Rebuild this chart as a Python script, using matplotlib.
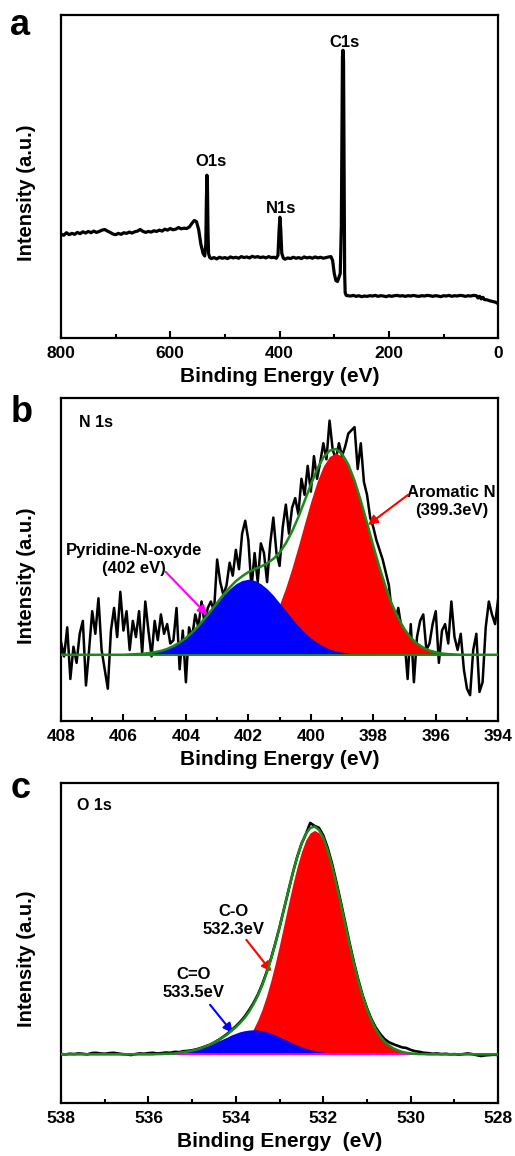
import numpy as np
import matplotlib.pyplot as plt
from matplotlib.ticker import MultipleLocator

plt.rcParams['font.family'] = ['Liberation Sans', 'DejaVu Sans']
plt.rcParams['font.weight'] = 'bold'
plt.rcParams['axes.labelweight'] = 'bold'

GREEN = '#1b8a1b'

# ---- panel a: survey spectrum (intensity as fraction of axis height) ----
survey_be = (list(range(800, 560, -5))
             + [560, 556, 552, 548, 544, 540, 537, 535, 534, 533, 532, 531, 530, 528, 525]
             + list(range(520, 405, -5))
             + [406, 403, 401, 399.5, 398, 396, 393]
             + list(range(390, 305, -5))
             + [306, 303, 300, 297, 294, 291, 289, 287, 285, 284, 283, 282, 281, 280, 278, 275]
             + list(range(270, 44, -5))
             + [40, 37, 34, 31, 28, 25, 20, 15, 10, 5, 0])
survey_int = [
    0.322, 0.318, 0.326, 0.320, 0.324, 0.321, 0.327, 0.323, 0.329, 0.325, 0.330, 0.326,
    0.331, 0.327, 0.330, 0.334, 0.336, 0.331, 0.327, 0.322, 0.320, 0.324, 0.321, 0.326,
    0.324, 0.328, 0.325, 0.329, 0.331, 0.336, 0.330, 0.327, 0.330, 0.328, 0.332, 0.330,
    0.334, 0.331, 0.337, 0.334, 0.339, 0.335, 0.337, 0.342, 0.338, 0.340, 0.339, 0.344,
    0.356, 0.364, 0.360, 0.335, 0.290, 0.262, 0.254, 0.290, 0.420, 0.504, 0.470, 0.330,
    0.262, 0.250, 0.246,
    0.249, 0.245, 0.250, 0.247, 0.249, 0.246, 0.251, 0.248, 0.250, 0.247, 0.252, 0.249,
    0.251, 0.248, 0.253, 0.250, 0.252, 0.249, 0.251, 0.248, 0.252, 0.249, 0.250,
    0.247, 0.256, 0.330, 0.374, 0.340, 0.262, 0.247,
    0.244, 0.248, 0.246, 0.250, 0.247, 0.249, 0.246, 0.251, 0.248, 0.250, 0.247, 0.251,
    0.248, 0.250, 0.247, 0.249, 0.251,
    0.252, 0.240, 0.200, 0.178, 0.175, 0.190, 0.200, 0.350, 0.870, 0.891, 0.860, 0.500,
    0.200, 0.140, 0.132, 0.131,
    0.130, 0.132, 0.129, 0.131, 0.128, 0.130, 0.129, 0.131, 0.130, 0.132, 0.129, 0.131,
    0.130, 0.128, 0.131, 0.129, 0.131, 0.132, 0.130, 0.131, 0.129, 0.131, 0.130, 0.132,
    0.130, 0.129, 0.131, 0.130, 0.132, 0.131, 0.129, 0.131, 0.130, 0.128, 0.131, 0.130,
    0.132, 0.129, 0.131, 0.130, 0.132, 0.131, 0.129, 0.131, 0.130, 0.132,
    0.131, 0.124, 0.129, 0.121, 0.126, 0.119, 0.118, 0.115, 0.113, 0.111, 0.106,
]
survey_labels = [("O1s", 526.2, 0.545), ("N1s", 397.6, 0.40), ("C1s", 280.5, 0.914)]

# ---- panel b: N 1s ----
n1s_be = np.round(np.linspace(408.0, 394.0, 141), 1)
n1s_raw = [
    0.245, 0.20, 0.29, 0.13, 0.23, 0.18, 0.27, 0.31, 0.11, 0.22, 0.34, 0.27,
    0.38, 0.22, 0.16, 0.10, 0.28, 0.35, 0.26, 0.40, 0.28, 0.34, 0.22, 0.31,
    0.26, 0.34, 0.21, 0.37, 0.28, 0.20, 0.31, 0.25, 0.33, 0.27, 0.30, 0.24,
    0.25, 0.35, 0.16, 0.28, 0.12, 0.29, 0.26, 0.33, 0.29, 0.37, 0.30, 0.35,
    0.37, 0.34, 0.50, 0.43, 0.39, 0.42, 0.49, 0.45, 0.53, 0.47, 0.58, 0.62,
    0.56, 0.41, 0.52, 0.43, 0.55, 0.52, 0.43, 0.55, 0.63, 0.52, 0.48,
    0.60, 0.67, 0.58, 0.66, 0.69, 0.64, 0.75, 0.70, 0.79, 0.71, 0.82, 0.75,
    0.80, 0.86, 0.81, 0.93, 0.84, 0.81, 0.86, 0.82, 0.85, 0.89, 0.90, 0.91,
    0.78, 0.86, 0.74, 0.70, 0.63, 0.60, 0.56, 0.53, 0.50, 0.46,
    0.42, 0.33, 0.31, 0.35, 0.29, 0.25, 0.13, 0.30, 0.12, 0.26, 0.31, 0.33,
    0.22, 0.24, 0.30, 0.34, 0.18, 0.28, 0.30, 0.24, 0.37, 0.26, 0.22, 0.27,
    0.16, 0.10, 0.08, 0.22, 0.27, 0.09, 0.12, 0.29, 0.37, 0.33, 0.30, 0.38,
]
n1s_fit_be = np.round(np.linspace(408.0, 394.0, 71), 1)
n1s_oxide = [
    0, 0, 0, 0, 0, 0, 0, 0, 0, 0, 0,
    0.001, 0.002, 0.003, 0.005, 0.008, 0.012, 0.018, 0.027, 0.038, 0.052,
    0.069, 0.089, 0.112, 0.136, 0.160, 0.184, 0.204, 0.220, 0.230, 0.234,
    0.230, 0.220, 0.204, 0.184, 0.160, 0.136, 0.112, 0.089, 0.069, 0.052,
    0.038, 0.027, 0.018, 0.012, 0.008, 0.005, 0.003, 0.002, 0.001,
    0, 0, 0, 0, 0, 0, 0, 0, 0, 0, 0, 0, 0, 0, 0, 0, 0, 0, 0, 0, 0,
]
n1s_arom = [
    0, 0, 0, 0, 0, 0, 0, 0, 0, 0, 0, 0, 0, 0, 0, 0, 0, 0, 0, 0, 0, 0, 0, 0, 0,
    0.001, 0.002, 0.004, 0.008, 0.013, 0.022, 0.035, 0.053, 0.079, 0.113,
    0.156, 0.209, 0.270, 0.337, 0.407, 0.475, 0.536, 0.584, 0.614, 0.625,
    0.614, 0.584, 0.536, 0.475, 0.407, 0.337, 0.270, 0.209, 0.156, 0.113,
    0.079, 0.053, 0.035, 0.022, 0.013, 0.008, 0.004, 0.002, 0.001,
    0, 0, 0, 0, 0, 0, 0,
]
n1s_base = 0.205

# ---- panel c: O 1s ----
o1s_be = np.round(np.linspace(538.0, 528.0, 101), 1)
o1s_raw = [
    0.153, 0.152, 0.154, 0.153, 0.155, 0.154, 0.152, 0.156, 0.157, 0.155,
    0.154, 0.156, 0.157, 0.155, 0.153, 0.152, 0.150, 0.153, 0.155, 0.154,
    0.156, 0.157, 0.155, 0.156, 0.158, 0.157, 0.160, 0.159, 0.162, 0.163,
    0.165, 0.168, 0.172, 0.177, 0.182, 0.189, 0.197, 0.206, 0.216, 0.228,
    0.240, 0.254, 0.270, 0.290, 0.312, 0.338, 0.370, 0.408, 0.450, 0.498,
    0.550, 0.606, 0.662, 0.718, 0.768, 0.810, 0.840, 0.875, 0.866, 0.860,
    0.836, 0.797, 0.748, 0.690, 0.628, 0.565, 0.500, 0.440, 0.385, 0.336,
    0.296, 0.262, 0.236, 0.216, 0.200, 0.190, 0.184, 0.179, 0.174, 0.172,
    0.166, 0.162, 0.160, 0.157, 0.156, 0.154, 0.155, 0.153, 0.154, 0.152,
    0.153, 0.151, 0.153, 0.155, 0.153, 0.150, 0.147, 0.149, 0.150, 0.151,
    0.150,
]
o1s_cdo = [  # C=O component
    0, 0, 0, 0, 0, 0, 0, 0, 0, 0, 0, 0, 0, 0, 0, 0, 0, 0, 0, 0, 0, 0,
    0.001, 0.001, 0.002, 0.002, 0.003, 0.005, 0.007, 0.009, 0.012, 0.015,
    0.019, 0.024, 0.029, 0.035, 0.042, 0.048, 0.054, 0.061, 0.066, 0.071,
    0.074, 0.076, 0.077, 0.076, 0.074, 0.071, 0.066, 0.061, 0.054, 0.048,
    0.042, 0.035, 0.029, 0.024, 0.019, 0.015, 0.012, 0.009, 0.007, 0.005,
    0.003, 0.002, 0.002, 0.001, 0.001,
    0, 0, 0, 0, 0, 0, 0, 0, 0, 0, 0, 0, 0, 0, 0, 0, 0,
    0, 0, 0, 0, 0, 0, 0, 0, 0, 0, 0, 0, 0, 0, 0, 0, 0,
]
o1s_co = [  # C-O component
    0, 0, 0, 0, 0, 0, 0, 0, 0, 0, 0, 0, 0, 0, 0, 0, 0, 0, 0, 0, 0, 0,
    0, 0, 0, 0, 0, 0, 0, 0, 0, 0, 0,
    0.001, 0.001, 0.002, 0.003, 0.005, 0.008, 0.013, 0.019, 0.028, 0.040,
    0.057, 0.079, 0.107, 0.141, 0.182, 0.230, 0.284, 0.343, 0.406, 0.469,
    0.530, 0.586, 0.633, 0.670, 0.692, 0.700, 0.692, 0.670, 0.633, 0.586,
    0.530, 0.469, 0.406, 0.343, 0.284, 0.230, 0.182, 0.141, 0.107, 0.079,
    0.057, 0.040, 0.028, 0.019, 0.013, 0.008, 0.005, 0.003, 0.002, 0.001,
    0.001,
    0, 0, 0, 0, 0, 0, 0, 0, 0, 0, 0, 0, 0, 0, 0, 0, 0,
]
o1s_base = 0.152

assert len(survey_be) == len(survey_int)
assert len(n1s_raw) == len(n1s_be)
assert len(n1s_oxide) == len(n1s_arom) == len(n1s_fit_be)
assert len(o1s_raw) == len(o1s_cdo) == len(o1s_co) == len(o1s_be)


def style(ax, xlim, major, minor, xlabel):
    ax.set_xlim(*xlim)
    ax.set_ylim(0, 1)
    ax.set_yticks([])
    ax.xaxis.set_major_locator(MultipleLocator(major))
    ax.xaxis.set_minor_locator(MultipleLocator(minor))
    ax.tick_params(axis='x', which='both', direction='in', top=False, width=1.5,
                   labelsize=12.5, pad=6)
    ax.tick_params(axis='x', which='major', length=5)
    ax.tick_params(axis='x', which='minor', length=3)
    for lab in ax.get_xticklabels():
        lab.set_fontweight('bold')
    for sp in ax.spines.values():
        sp.set_linewidth(1.6)
    ax.set_xlabel(xlabel, fontsize=15, fontweight='bold', labelpad=4)
    ax.set_ylabel("Intensity (a.u.)", fontsize=14.5, fontweight='bold')
    ax.yaxis.set_label_coords(-0.057, 0.45)


def arrow(ax, tail, head, color):
    ax.annotate("", xy=head, xytext=tail,
                arrowprops=dict(arrowstyle='-|>', color=color, lw=1.5,
                                mutation_scale=14, shrinkA=0, shrinkB=0))


fig = plt.figure(figsize=(5.15, 11.56), dpi=100)
ax_a = fig.add_axes([0.1184, 0.7076, 0.849, 0.2794])
ax_b = fig.add_axes([0.1184, 0.3763, 0.849, 0.2794])
ax_c = fig.add_axes([0.1184, 0.0458, 0.849, 0.2769])

# a
ax_a.plot(survey_be, survey_int, color='black', lw=2.3)
for name, x, y in survey_labels:
    ax_a.text(x, y, name, ha='center', va='center', fontsize=12, fontweight='bold')
style(ax_a, (800, 0), 200, 100, "Binding Energy (eV)")

# b
oxide = np.array(n1s_oxide)
arom = np.array(n1s_arom)
ax_b.plot(n1s_be, n1s_raw, color='black', lw=1.8, zorder=1)
ax_b.fill_between(n1s_fit_be, n1s_base, n1s_base + arom, color='#ff0000', lw=0, zorder=2)
ax_b.fill_between(n1s_fit_be, n1s_base, n1s_base + oxide, color='#0000ff', lw=0, zorder=2)
ax_b.axhline(n1s_base, color=GREEN, lw=1.4, zorder=3)
ax_b.plot(n1s_fit_be, n1s_base + oxide + arom, color=GREEN, lw=1.8, zorder=4)
ax_b.text(407.43, 0.925, "N 1s", ha='left', va='center', fontsize=11.5, fontweight='bold')
ax_b.text(405.67, 0.50, "Pyridine-N-oxyde\n(402 eV)", ha='center', va='center',
          fontsize=12, fontweight='bold', linespacing=1.2)
arrow(ax_b, (404.65, 0.462), (403.31, 0.328), '#ff00ff')
ax_b.text(395.5, 0.68, "Aromatic N\n(399.3eV)", ha='center', va='center',
          fontsize=12, fontweight='bold', linespacing=1.2)
arrow(ax_b, (396.89, 0.70), (398.17, 0.607), '#ff0000')
style(ax_b, (408, 394), 2, 1, "Binding Energy (eV)")

# c
cdo = np.array(o1s_cdo)
co = np.array(o1s_co)
ax_c.plot(o1s_be, o1s_raw, color='black', lw=1.9, zorder=1)
ax_c.fill_between(o1s_be, o1s_base, o1s_base + co, color='#ff0000', lw=0, zorder=2)
ax_c.fill_between(o1s_be, o1s_base, o1s_base + cdo, color='#0000ff', lw=0, zorder=2)
ax_c.axhline(o1s_base, color='#ff00ff', lw=1.4, zorder=3)
ax_c.plot(o1s_be, o1s_base + cdo + co, color=GREEN, lw=1.8, zorder=4)
ax_c.text(537.64, 0.929, "O 1s", ha='left', va='center', fontsize=11.5, fontweight='bold')
ax_c.text(534.05, 0.57, "C-O\n532.3eV", ha='center', va='center',
          fontsize=12, fontweight='bold', linespacing=1.2)
arrow(ax_c, (533.76, 0.51), (533.19, 0.411), '#ff0000')
ax_c.text(534.97, 0.374, "C=O\n533.5eV", ha='center', va='center',
          fontsize=12, fontweight='bold', linespacing=1.2)
arrow(ax_c, (534.59, 0.307), (534.07, 0.219), '#0000ff')
style(ax_c, (538, 528), 2, 1, "Binding Energy  (eV)")

for label, y in (("a", 0.970), ("b", 0.635), ("c", 0.310)):
    fig.text(0.020, y, label, fontsize=26, fontweight='bold', ha='left', va='baseline')

fig.savefig("out.png", dpi=100)
